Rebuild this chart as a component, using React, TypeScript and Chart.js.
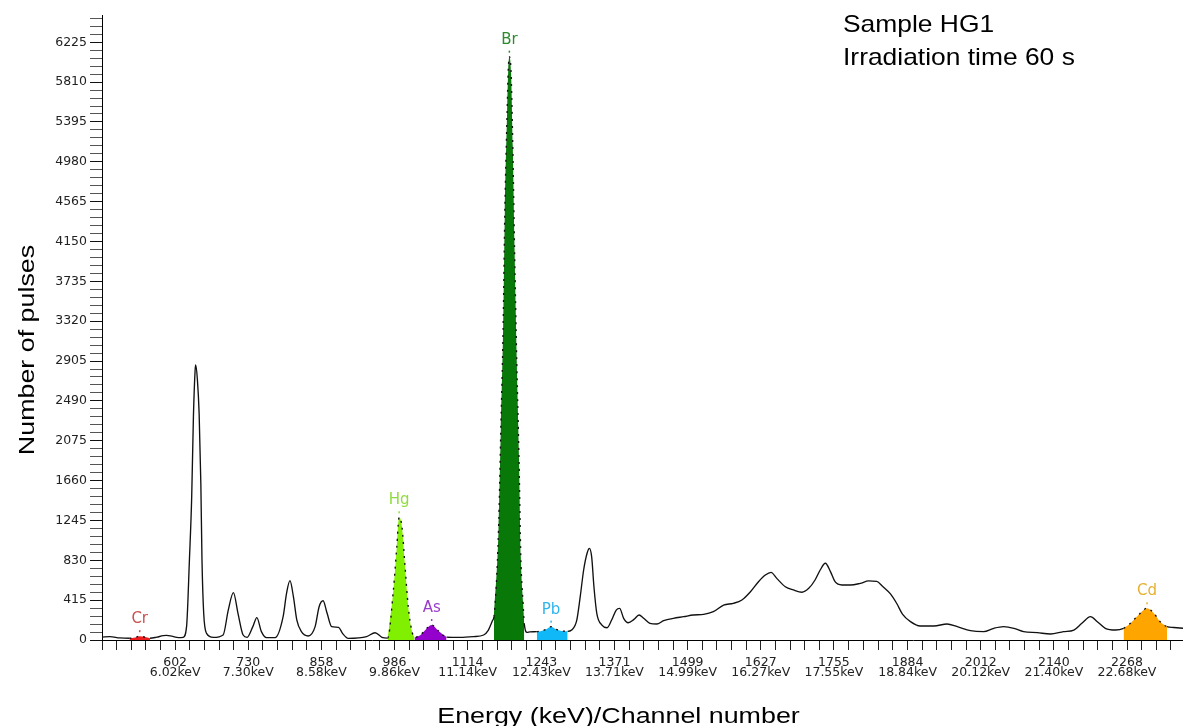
import React, { useEffect, useRef } from "react";
import { Chart, registerables } from "chart.js";

Chart.register(...registerables);

// ---- Data ----
const spectrumChannels = [
  474, 488, 505, 522, 532, 540, 549, 558, 570, 581, 587, 596, 608, 616, 622, 627, 631, 634, 637, 638,
  641, 644, 647, 649, 652, 657, 669, 686, 695, 704, 712, 721, 728, 738, 745, 753, 762, 777, 791, 797,
  803, 809, 815, 823, 835, 847, 854, 861, 868, 876, 888, 895, 905, 937, 952, 964, 974, 984, 990, 994,
  999, 1004, 1010, 1016, 1021, 1031, 1039, 1051, 1062, 1077, 1101, 1124, 1142, 1150, 1153, 1158, 1160, 1168, 1172, 1176,
  1179, 1183, 1185, 1187, 1190, 1193, 1196, 1200, 1204, 1207, 1211, 1213, 1218, 1223, 1235, 1243, 1251, 1260, 1269, 1278,
  1289, 1296, 1305, 1311, 1317, 1323, 1327, 1331, 1335, 1340, 1349, 1358, 1366, 1374, 1380, 1387, 1395, 1405, 1414, 1422,
  1433, 1445, 1457, 1474, 1492, 1509, 1527, 1544, 1562, 1579, 1594, 1609, 1623, 1635, 1645, 1655, 1670, 1684, 1699, 1711,
  1722, 1731, 1740, 1749, 1757, 1769, 1784, 1801, 1816, 1830, 1840, 1854, 1865, 1875, 1889, 1906, 1930, 1953, 1971, 1994,
  2017, 2035, 2052, 2070, 2087, 2111, 2134, 2157, 2175, 2189, 2204, 2216, 2230, 2248, 2262, 2274, 2288, 2303, 2315, 2326,
  2338, 2350, 2366,
];
const spectrumCounts = [
  30, 35, 22, 18, 25, 40, 30, 18, 30, 45, 48, 40, 25, 28, 139, 833, 1492, 2325, 2812, 2864,
  2708, 2361, 1632, 833, 278, 69, 27, 52, 312, 493, 278, 52, 28, 139, 233, 87, 25, 25, 243, 486,
  618, 451, 208, 87, 42, 139, 347, 409, 278, 139, 132, 69, 17, 35, 76, 28, 20, 521, 972, 1278,
  1180, 799, 347, 104, 27, 50, 100, 156, 100, 30, 27, 35, 52, 100, 139, 208, 243, 1146, 2187, 3228,
  4444, 5485, 5936, 6075, 5902, 5137, 4096, 2882, 1840, 868, 382, 174, 80, 85, 87, 95, 110, 139, 110, 95,
  90, 104, 208, 451, 729, 903, 955, 868, 555, 278, 156, 128, 208, 312, 330, 226, 180, 215, 260, 226,
  174, 167, 201, 226, 243, 260, 267, 295, 364, 382, 417, 503, 607, 677, 705, 642, 555, 521, 497, 538,
  625, 729, 799, 712, 607, 573, 573, 590, 615, 610, 560, 480, 380, 270, 191, 146, 146, 167, 139, 97,
  87, 122, 139, 122, 87, 76, 62, 87, 104, 174, 243, 191, 122, 104, 122, 174, 260, 330, 278, 191,
  139, 130, 122,
];

// element regions (channel ranges) and their colours
const elementNames = ["Cr", "Hg", "As", "Br", "Pb", "Cd"];
const regionStart = [522, 974, 1021, 1160, 1235, 2262];
const regionEnd = [558, 1021, 1077, 1213, 1289, 2338];
const regionColors = ["#ee1c1c", "#80f000", "#9400cc", "#087808", "#10b8f8", "#ffa500"];
const labelChannels = [540, 994, 1051, 1187, 1260, 2303];
const labelColors = ["#c85050", "#90dc40", "#9a3ccc", "#2e8a2e", "#30b4ec", "#e6b030"];

// axis ticks
const yTickLabels = [0, 415, 830, 1245, 1660, 2075, 2490, 2905, 3320, 3735, 4150, 4565, 4980, 5395, 5810, 6225];
const xTickChannels = [602, 730, 858, 986, 1114, 1243, 1371, 1499, 1627, 1755, 1884, 2012, 2140, 2268];
const xTickKeV = [
  "6.02keV", "7.30keV", "8.58keV", "9.86keV", "11.14keV", "12.43keV", "13.71keV",
  "14.99keV", "16.27keV", "17.55keV", "18.84keV", "20.12keV", "21.40keV", "22.68keV",
];
const X_MIN = 474;
const X_MAX = 2366;
const Y_MAX = 6509;

const yTitle = "Number of pulses";
const xTitle = "Energy (keV)/Channel number";
const noteLines = ["Sample HG1", "Irradiation time 60 s"];

// ---- derived tick positions (5 subdivisions between labelled ticks) ----
function buildYTicks(): number[] {
  const step = (yTickLabels[1] - yTickLabels[0]) / 5;
  const out: number[] = [];
  for (let v = 0; v <= Y_MAX + 1e-9; v += step) out.push(Math.round(v * 1000) / 1000);
  return out;
}
function buildXTicks(): number[] {
  const out: number[] = [];
  const first = xTickChannels[0];
  for (let j = 0; j < 5; j++) out.push(X_MIN + ((first - X_MIN) * j) / 5);
  for (let i = 0; i < xTickChannels.length - 1; i++) {
    const a = xTickChannels[i];
    const b = xTickChannels[i + 1];
    for (let j = 0; j < 5; j++) out.push(a + ((b - a) * j) / 5);
  }
  const last = xTickChannels[xTickChannels.length - 1];
  const step = (last - xTickChannels[xTickChannels.length - 2]) / 5;
  for (let j = 0; last + j * step <= X_MAX; j++) out.push(last + j * step);
  return out;
}

const spectrumPoints = spectrumChannels.map((c, i) => ({ x: c, y: spectrumCounts[i] }));

function inRegion(ch0: number, ch1: number): boolean {
  for (let i = 0; i < regionStart.length; i++) {
    if (ch0 >= regionStart[i] && ch1 <= regionEnd[i]) return true;
  }
  return false;
}

function drawStretched(
  ctx: CanvasRenderingContext2D,
  text: string,
  x: number,
  y: number,
  sx: number,
  rotate: number,
  align: CanvasTextAlign
) {
  ctx.save();
  ctx.translate(x, y);
  if (rotate) ctx.rotate(rotate);
  ctx.scale(sx, 1);
  ctx.textAlign = align;
  ctx.fillText(text, 0, 0);
  ctx.restore();
}

const annotationPlugin = {
  id: "spectrumAnnotations",
  afterDatasetsDraw(chart: any) {
    const ctx: CanvasRenderingContext2D = chart.ctx;
    const xs = chart.scales.x;
    const ys = chart.scales.y;
    ctx.save();
    ctx.font = "15px 'DejaVu Sans'";
    ctx.textBaseline = "middle";
    ctx.textAlign = "center";
    elementNames.forEach((name, i) => {
      const ch = labelChannels[i];
      let best = 0;
      spectrumChannels.forEach((c, k) => {
        if (Math.abs(c - ch) < Math.abs(spectrumChannels[best] - ch)) best = k;
      });
      const px = xs.getPixelForValue(spectrumChannels[best]);
      const py = ys.getPixelForValue(spectrumCounts[best]);
      ctx.fillStyle = labelColors[i];
      ctx.fillText(name, px, py - 17);
      ctx.fillRect(px - 0.75, py - 6, 1.5, 2);
    });
    ctx.restore();
  },
  afterDraw(chart: any) {
    const ctx: CanvasRenderingContext2D = chart.ctx;
    const area = chart.chartArea;
    ctx.save();
    ctx.fillStyle = "#000";
    ctx.textBaseline = "alphabetic";
    ctx.font = "22px 'Liberation Sans'";
    drawStretched(ctx, yTitle, 34, 350, 1.22, -Math.PI / 2, "center");
    drawStretched(ctx, xTitle, (area.left + area.right) / 2 - 24, 723, 1.22, 0, "center");
    ctx.font = "24px 'Liberation Sans'";
    drawStretched(ctx, noteLines[0], 843, 32, 1.1, 0, "left");
    drawStretched(ctx, noteLines[1], 843, 65, 1.1, 0, "left");
    ctx.restore();
  },
};

export default function App() {
  const ref = useRef<HTMLCanvasElement | null>(null);

  useEffect(() => {
    if (!ref.current) return;
    const yTicks = buildYTicks();
    const xTicks = buildXTicks();
    const yMajor = new Set(yTickLabels);

    const regionDatasets = elementNames.map((name, i) => ({
      label: name,
      data: spectrumPoints.filter((p) => p.x >= regionStart[i] && p.x <= regionEnd[i]),
      borderWidth: 0,
      borderColor: regionColors[i],
      backgroundColor: regionColors[i],
      fill: "origin",
      pointRadius: 0,
      cubicInterpolationMode: "monotone",
      order: 1,
    }));

    const chart = new Chart(ref.current, {
      type: "line",
      data: {
        datasets: [
          {
            label: "Spectrum",
            data: spectrumPoints,
            borderColor: "#111",
            borderWidth: 1.35,
            pointRadius: 0,
            fill: false,
            cubicInterpolationMode: "monotone",
            order: 0,
            segment: {
              borderDash: (c: any) => (inRegion(c.p0.parsed.x, c.p1.parsed.x) ? [2, 5] : undefined),
            },
          },
          ...regionDatasets,
        ] as any,
      },
      options: {
        responsive: false,
        devicePixelRatio: 1,
        animation: false,
        events: [],
        layout: { padding: { top: 15, left: 0, right: 0, bottom: 0 } },
        plugins: { legend: { display: false }, tooltip: { enabled: false } },
        scales: {
          x: {
            type: "linear",
            min: X_MIN,
            max: X_MAX,
            afterBuildTicks: (s: any) => {
              s.ticks = xTicks.map((v) => ({ value: v }));
            },
            afterFit: (s: any) => {
              s.height = 86;
            },
            grid: {
              drawOnChartArea: false,
              tickLength: 10,
              tickColor: "#222",
            },
            border: { display: true, color: "#000", width: 1 },
            ticks: {
              autoSkip: false,
              maxRotation: 0,
              minRotation: 0,
              padding: 7,
              color: "#222",
              font: { family: "'DejaVu Sans'", size: 12.5, lineHeight: 0.85 },
              callback: (v: any) => {
                const idx = xTickChannels.indexOf(v);
                return idx >= 0 ? [String(xTickChannels[idx]), xTickKeV[idx]] : "";
              },
            },
          },
          y: {
            type: "linear",
            min: 0,
            max: Y_MAX,
            afterBuildTicks: (s: any) => {
              s.ticks = yTicks.map((v) => ({ value: v }));
            },
            afterFit: (s: any) => {
              s.width = 102;
            },
            grid: {
              drawOnChartArea: false,
              tickLength: 12,
              tickColor: (c: any) => (c.tick && yMajor.has(c.tick.value) ? "#111" : "#555"),
            },
            border: { display: true, color: "#000", width: 1 },
            ticks: {
              autoSkip: false,
              padding: 3,
              color: "#222",
              font: { family: "'DejaVu Sans'", size: 12.5 },
              callback: (v: any) => (yMajor.has(v) ? String(v) : ""),
            },
          },
        },
      } as any,
      plugins: [annotationPlugin],
    });
    return () => chart.destroy();
  }, []);

  return (
    <div style={{ position: "fixed", left: 0, top: 0, width: 1183, height: 726, background: "#fff" }}>
      <canvas ref={ref} width={1183} height={726} style={{ display: "block" }} />
    </div>
  );
}
